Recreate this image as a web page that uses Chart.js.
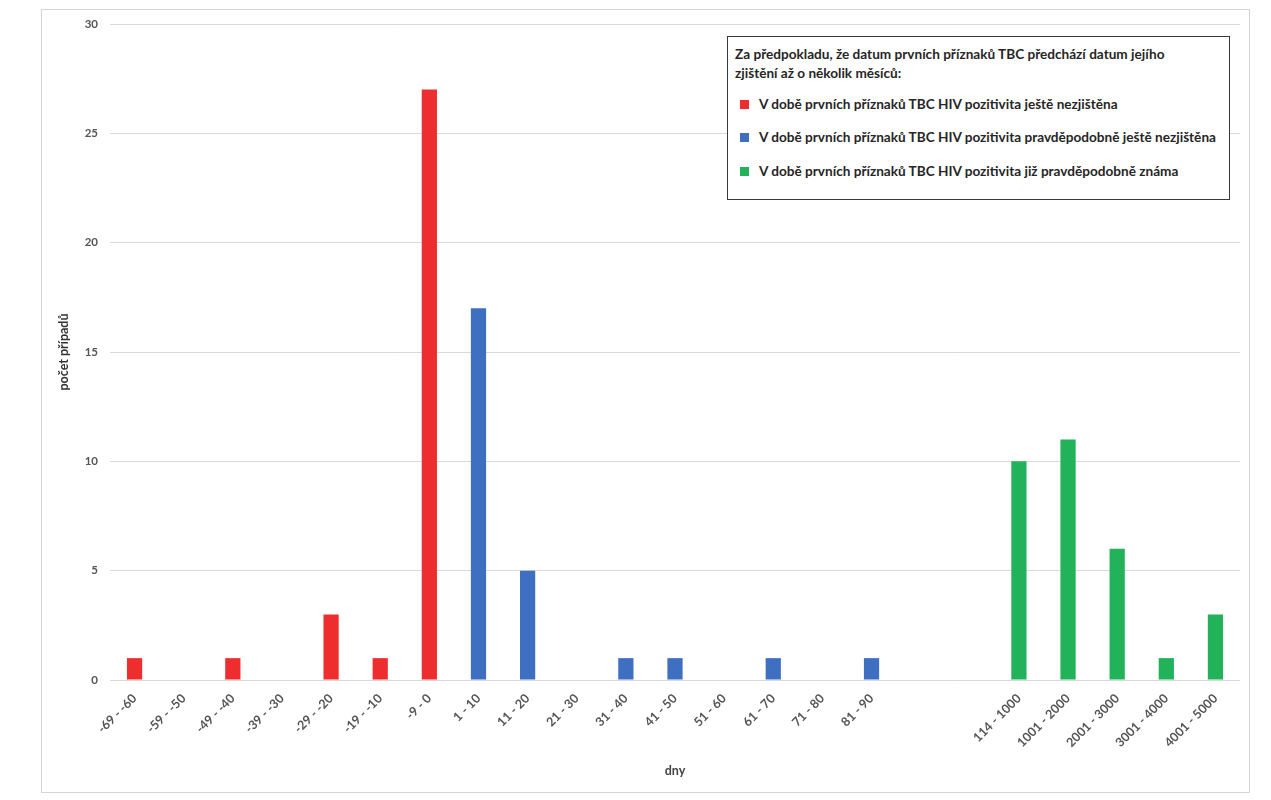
<!DOCTYPE html>
<html lang="cs">
<head>
<meta charset="utf-8">
<title>Počet případů podle dnů</title>
<script src="https://cdn.jsdelivr.net/npm/chart.js@4/dist/chart.umd.min.js"></script>
<style>
  html, body { margin: 0; padding: 0; background: #fff; }
  #wrap { position: relative; width: 1271px; height: 800px; }
  #frame {
    position: absolute; left: 41px; top: 9px; width: 1207px; height: 782px;
    border: 1px solid #d4d4d4; pointer-events: none;
  }
  #legend {
    position: absolute; left: 727px; top: 36px; width: 503px; height: 164px;
    border: 1.5px solid #3a3a3a; background: #fff;
    font-family: Lato, "Noto Sans", sans-serif; font-weight: bold; font-size: 13.6px;
    color: #262626; box-sizing: border-box;
  }
  #legend .title { position: absolute; left: 7px; top: 8px; line-height: 19px; width: 490px; white-space: nowrap; }
  #legend .item { position: absolute; left: 12px; white-space: nowrap; }
  #legend .sw { display: inline-block; width: 9px; height: 9px; margin-right: 10px; vertical-align: 0px; }
</style>
</head>
<body>
<div id="wrap">
  <canvas id="chart" width="1271" height="800"></canvas>
  <div id="frame"></div>
  <div id="legend"></div>
</div>
<script>
// ─── DATA ──────────────────────────────────────────────────────────────
const categories = [
  '-69 - -60', '-59 - -50', '-49 - -40', '-39 - -30', '-29 - -20', '-19 - -10', '-9 - 0',
  '1 - 10', '11 - 20', '21 - 30', '31 - 40', '41 - 50', '51 - 60', '61 - 70', '71 - 80', '81 - 90',
  '', '',
  '114 - 1000', '1001 - 2000', '2001 - 3000', '3001 - 4000', '4001 - 5000'
];

const redValues   = [1, null, 1, null, 3, 1, 27, null, null, null, null, null, null, null, null, null, null, null, null, null, null, null, null];
const blueValues  = [null, null, null, null, null, null, null, 17, 5, null, 1, 1, null, 1, null, 1, null, null, null, null, null, null, null];
const greenValues = [null, null, null, null, null, null, null, null, null, null, null, null, null, null, null, null, null, null, 10, 11, 6, 1, 3];

const yTicks = [0, 5, 10, 15, 20, 25, 30];

const legendTitle = 'Za předpokladu, že datum prvních příznaků TBC předchází datum jejího<br>zjištění až o několik měsíců:';
const seriesNames = [
  'V době prvních příznaků TBC HIV pozitivita ještě nezjištěna',
  'V době prvních příznaků TBC HIV pozitivita pravděpodobně ještě nezjištěna',
  'V době prvních příznaků TBC HIV pozitivita již pravděpodobně známa'
];
const seriesColors = ['#ee2e2e', '#3f6fc0', '#22b25a'];

// ─── LEGENDA ───────────────────────────────────────────────────────────
const legendEl = document.getElementById('legend');
const itemTops = [59, 92, 126];
legendEl.innerHTML = `<div class="title">${legendTitle}</div>` +
  seriesNames.map((name, i) =>
    `<div class="item" style="top:${itemTops[i]}px"><span class="sw" style="background:${seriesColors[i]}"></span>${name}</div>`
  ).join('');

// ─── GRAF ──────────────────────────────────────────────────────────────
const font = { family: 'Lato, "Noto Sans", sans-serif', size: 11, weight: 'bold' };

new Chart(document.getElementById('chart'), {
  type: 'bar',
  data: {
    labels: categories,
    datasets: [redValues, blueValues, greenValues].map((data, i) => ({
      label: seriesNames[i],
      data,
      backgroundColor: seriesColors[i],
      barPercentage: 0.31,
      categoryPercentage: 1
    }))
  },
  options: {
    responsive: false,
    animation: false,
    layout: { padding: { left: 56, top: 24, right: 31, bottom: 22 } },
    plugins: {
      legend: { display: false },
      tooltip: { enabled: false }
    },
    scales: {
      x: {
        stacked: true,
        grid: { display: false },
        border: { display: false },
        ticks: {
          color: '#555',
          font: { ...font, size: 12.5 },
          autoSkip: false,
          maxRotation: 45,
          minRotation: 45,
          padding: 3
        },
        title: {
          display: true,
          text: 'dny',
          color: '#444',
          font: { ...font, size: 12.5 },
          padding: { top: 8, bottom: 0 }
        },
        afterFit: axis => { axis.height = 98; }
      },
      y: {
        stacked: true,
        min: 0,
        max: 30,
        afterBuildTicks: axis => { axis.ticks = yTicks.map(v => ({ value: v })); },
        grid: { color: '#d9d9d9', lineWidth: 1, drawTicks: false },
        border: { display: false },
        ticks: { color: '#555', font: { ...font, size: 11.5 }, padding: 12 },
        title: {
          display: true,
          text: 'počet případů',
          color: '#333',
          font: { ...font, size: 12.5 },
          padding: { top: 0, bottom: 8 }
        },
        afterFit: axis => { axis.width = 54; }
      }
    }
  }
});
</script>
</body>
</html>
